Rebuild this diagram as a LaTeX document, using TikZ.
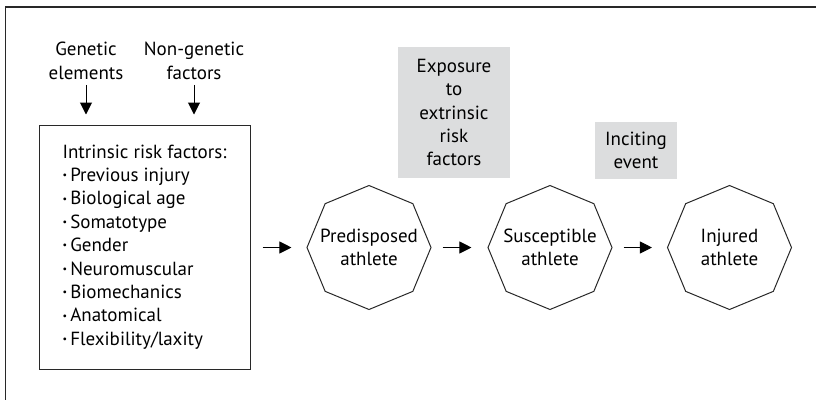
\documentclass[tikz,border=0pt]{standalone}
\usepackage{fontspec}
\setmainfont{PT Sans}
\usetikzlibrary{shapes.geometric,arrows.meta}
\definecolor{boxgray}{RGB}{220,221,222}
\definecolor{linecol}{RGB}{40,40,40}
\newcommand{\smbul}{\raisebox{0.15em}{\fontsize{10}{10}\selectfont\textbullet}\,}
\tikzset{
  fnt/.style={font=\fontsize{19}{23.4}\selectfont},
  txt/.style={fnt, align=center, inner sep=0pt},
  octa/.style={draw=linecol, line width=1pt, regular polygon, regular polygon sides=8,
     shape border rotate=22.5, minimum size=124pt, inner sep=0pt},
  graybox/.style={fnt, fill=boxgray, align=center, inner sep=0pt},
  arr/.style={-{Triangle[length=12pt,width=12pt]}, line width=1pt, draw=black},
}
\begin{document}
\begin{tikzpicture}[x=1pt,y=-1pt]
\useasboundingbox (0,0) rectangle (816,400);
\draw[linecol, line width=1.2pt] (816,7) -- (5.5,7) -- (5.5,400);

\node[txt] (gen) at (86,61) {Genetic\\elements};
\node[txt] (nongen) at (194,61) {Non-genetic\\factors};

\node[fnt, draw=linecol, line width=1pt, minimum width=211pt, minimum height=244pt, inner sep=0pt,
      align=left] (box) at (144.5,247)
  {Intrinsic risk factors:\\
   \smbul Previous injury\\
   \smbul Biological age\\
   \smbul Somatotype\\
   \smbul Gender\\
   \smbul Neuromuscular\\
   \smbul Biomechanics\\
   \smbul Anatomical\\
   \smbul Flexibility/laxity};

\node[octa] (pre) at (369,247.5) {};
\node[octa] (sus) at (550,247.5) {};
\node[octa] (inj) at (729.5,247.5) {};
\node[txt] (pretxt) at (pre.center) {Predisposed\\athlete};
\node[txt] (sustxt) at (sus.center) {Susceptible\\athlete};
\node[txt] (injtxt) at (inj.center) {Injured\\athlete};

\node[graybox, minimum width=112pt, minimum height=131pt] (expo) at (454,112.5)
  {Exposure\\to\\extrinsic\\risk\\factors};
\node[graybox, minimum width=82pt, minimum height=57pt] (inc) at (636,150.5)
  {Inciting\\event};

\draw[arr, shorten <=5pt, shorten >=10pt] (gen.south) -- (gen.south |- box.north);
\draw[arr, shorten <=5pt, shorten >=10pt] (nongen.south) -- (nongen.south |- box.north);
\draw[arr, shorten <=12pt, shorten >=15pt] (box.east |- pre.west) -- (pre.west);
\draw[arr, shorten <=11pt, shorten >=16pt] (pre.east) -- (sus.west);
\draw[arr, shorten <=11pt, shorten >=15pt] (sus.east) -- (inj.west);
\end{tikzpicture}
\end{document}
